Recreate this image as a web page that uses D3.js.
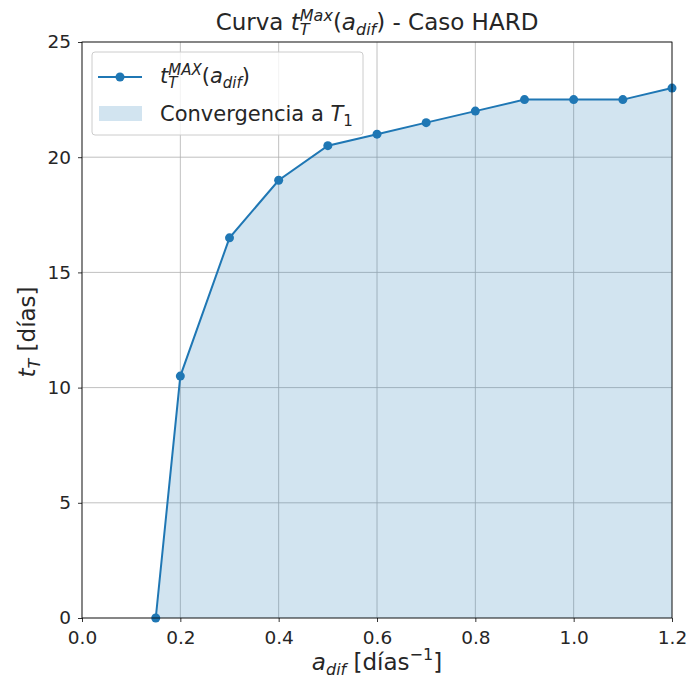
<!DOCTYPE html>
<html>
<head>
<meta charset="utf-8">
<script src="https://d3js.org/d3.v7.min.js"></script>
<style>
  body { margin: 0; background: #fff; }
  svg text { font-family: "DejaVu Sans", sans-serif; fill: #262626; }
</style>
</head>
<body>
<svg id="chart" width="688" height="682"></svg>
<script>
// Data
const aDif = [0.15, 0.2, 0.3, 0.4, 0.5, 0.6, 0.7, 0.8, 0.9, 1.0, 1.1, 1.2];
const tMax = [0, 10.5, 16.5, 19, 20.5, 21, 21.5, 22, 22.5, 22.5, 22.5, 23];
const xTicks = [0.0, 0.2, 0.4, 0.6, 0.8, 1.0, 1.2];
const yTicks = [0, 5, 10, 15, 20, 25];

const blue = "#1f77b4";
const margin = { left: 82, right: 16, top: 42, bottom: 64 };
const width = 688, height = 682;

const svg = d3.select("#chart");
const x = d3.scaleLinear().domain([0, 1.2]).range([margin.left, width - margin.right]);
const y = d3.scaleLinear().domain([0, 25]).range([height - margin.bottom, margin.top]);

const points = aDif.map((a, i) => ({ a: a, t: tMax[i] }));

// Grid
svg.append("g").selectAll("line").data(xTicks).join("line")
  .attr("x1", d => x(d)).attr("x2", d => x(d))
  .attr("y1", y(0)).attr("y2", y(25))
  .attr("stroke", "#b0b0b0").attr("stroke-width", 0.8);
svg.append("g").selectAll("line").data(yTicks).join("line")
  .attr("x1", x(0)).attr("x2", x(1.2))
  .attr("y1", d => y(d)).attr("y2", d => y(d))
  .attr("stroke", "#b0b0b0").attr("stroke-width", 0.8);

// Filled area
const area = d3.area().x(d => x(d.a)).y0(y(0)).y1(d => y(d.t));
svg.append("path").datum(points).attr("d", area)
  .attr("fill", blue).attr("fill-opacity", 0.2);

// Line + markers
const line = d3.line().x(d => x(d.a)).y(d => y(d.t));
svg.append("path").datum(points).attr("d", line)
  .attr("fill", "none").attr("stroke", blue).attr("stroke-width", 2);
svg.append("g").selectAll("circle").data(points).join("circle")
  .attr("cx", d => x(d.a)).attr("cy", d => y(d.t)).attr("r", 4.5)
  .attr("fill", blue);

// Frame
svg.append("rect")
  .attr("x", x(0)).attr("y", y(25))
  .attr("width", x(1.2) - x(0)).attr("height", y(0) - y(25))
  .attr("fill", "none").attr("stroke", "#000").attr("stroke-width", 0.8);

// Axes
const xAxis = svg.append("g").attr("transform", `translate(0,${y(0)})`)
  .call(d3.axisBottom(x).tickValues(xTicks).tickFormat(d3.format(".1f")).tickSizeOuter(0).tickSize(4).tickPadding(5));
const yAxis = svg.append("g").attr("transform", `translate(${x(0)},0)`)
  .call(d3.axisLeft(y).tickValues(yTicks).tickFormat(d3.format("d")).tickSizeOuter(0).tickSize(4).tickPadding(7));
[xAxis, yAxis].forEach(g => {
  g.select(".domain").remove();
  g.selectAll("line").attr("stroke", "#000").attr("stroke-width", 0.8);
  g.selectAll("text").attr("font-size", 18.5).style("font-family", "DejaVu Sans").attr("fill", "#1a1a1a");
});
xAxis.selectAll("text").attr("dy", "0.9em");

// helper for math text. off = vertical offset (down +), small = script size,
// stack = superscript drawn over a subscript
function mathText(sel, parts, fs, supOff) {
  let cur = 0, pending = 0;
  parts.forEach(p => {
    const off = p.off || 0;
    const ts = sel.append("tspan").text(p.t).attr("dy", off - cur);
    cur = off;
    if (pending) { ts.attr("dx", pending); pending = 0; }
    if (p.it) ts.attr("font-style", "italic");
    if (p.off) ts.attr("font-size", fs);
    if (p.stack) {
      const w = ts.node().getComputedTextLength();
      const sup = sel.append("tspan").text(p.stack)
        .attr("font-style", "italic").attr("font-size", fs)
        .attr("dx", -w).attr("dy", supOff - cur);
      cur = supOff;
      const w2 = sup.node().getComputedTextLength();
      pending = Math.max(0, w - w2);
    }
  });
}

// Title
const title = svg.append("text").attr("x", 377).attr("y", 30)
  .attr("text-anchor", "middle").attr("font-size", 23);
mathText(title, [
  { t: "Curva " }, { t: "t", it: true },
  { t: "T", it: true, off: 5, stack: "Max" },
  { t: "(" }, { t: "a", it: true },
  { t: "dif", it: true, off: 5 },
  { t: ") - Caso HARD" }
], 16, -9);

// Axis labels
const xl = svg.append("text").attr("x", 377).attr("y", 670)
  .attr("text-anchor", "middle").attr("font-size", 23);
mathText(xl, [
  { t: "a", it: true }, { t: "dif", it: true, off: 5 },
  { t: " [días" }, { t: "−1", off: -10 }, { t: "]" }
], 16, -10);

const yl = svg.append("text")
  .attr("transform", "translate(35,332) rotate(-90)")
  .attr("text-anchor", "middle").attr("font-size", 23);
mathText(yl, [
  { t: "t", it: true }, { t: "T", it: true, off: 5 }, { t: " [días]" }
], 16, -9);

// Legend
const lg = svg.append("g");
lg.append("rect").attr("x", 92).attr("y", 52).attr("width", 271).attr("height", 83)
  .attr("rx", 3).attr("fill", "#fff").attr("fill-opacity", 0.8)
  .attr("stroke", "#cccccc").attr("stroke-width", 1);
lg.append("line").attr("x1", 98).attr("x2", 142).attr("y1", 77).attr("y2", 77)
  .attr("stroke", blue).attr("stroke-width", 2);
lg.append("circle").attr("cx", 120).attr("cy", 77).attr("r", 4.5).attr("fill", blue);
const l1 = lg.append("text").attr("x", 160).attr("y", 83).attr("font-size", 21);
mathText(l1, [
  { t: "t", it: true },
  { t: "T", it: true, off: 5, stack: "MAX" },
  { t: "(" }, { t: "a", it: true }, { t: "dif", it: true, off: 5 }, { t: ")" }
], 15, -8);
lg.append("rect").attr("x", 99).attr("y", 106).attr("width", 43).attr("height", 15)
  .attr("fill", blue).attr("fill-opacity", 0.2);
const l2 = lg.append("text").attr("x", 160).attr("y", 121).attr("font-size", 21);
mathText(l2, [
  { t: "Convergencia a " }, { t: "T", it: true }, { t: "1", off: 5 }
], 15, -8);
</script>
</body>
</html>
